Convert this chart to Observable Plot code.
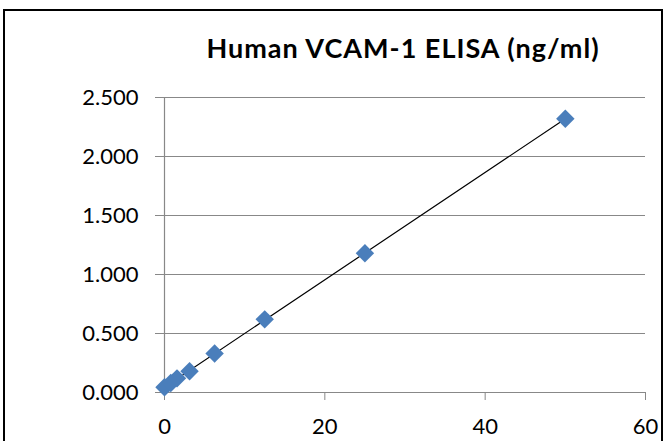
<!DOCTYPE html>
<html>
<head>
<meta charset="utf-8">
<script src="https://cdn.jsdelivr.net/npm/d3@7"></script>
<script src="https://cdn.jsdelivr.net/npm/@observablehq/plot@0.6"></script>
<style>
  html, body { margin: 0; padding: 0; background: #fff; }
  #wrap { position: relative; width: 665px; height: 441px; overflow: hidden; font-family: Lato, sans-serif; }
  #frame { position: absolute; left: 3px; top: 9px; width: 656px; height: 440px; border: 2px solid #000; box-sizing: content-box; }
  #title { position: absolute; left: 403px; top: 34px; transform: translateX(-50%); white-space: nowrap;
           font-family: Lato, sans-serif; font-weight: bold; font-size: 27px; line-height: 27px; letter-spacing: 1px; color: #000; }
  #chart { position: absolute; left: 0; top: 0; }
</style>
</head>
<body>
<div id="wrap">
  <div id="frame"></div>
  <div id="chart"></div>
  <div id="title">Human VCAM-1 ELISA (ng/ml)</div>
</div>
<script>
const concentration = [0, 0.78, 1.56, 3.125, 6.25, 12.5, 25, 50];
const absorbance = [0.045, 0.08, 0.12, 0.18, 0.33, 0.62, 1.18, 2.32];
const xTicks = [0, 20, 40, 60];
const yTicks = [0, 0.5, 1, 1.5, 2, 2.5];

const data = concentration.map((c, i) => ({x: c, y: absorbance[i]}));

const chart = Plot.plot({
  width: 665,
  height: 441,
  marginLeft: 164,
  marginRight: 20,
  marginTop: 97,
  marginBottom: 49,
  style: {fontFamily: "Lato, sans-serif", fontSize: "22px", color: "#000", background: "transparent", overflow: "visible"},
  x: {domain: [0, 60]},
  y: {domain: [0, 2.5]},
  marks: [
    Plot.gridY(yTicks, {stroke: "#888", strokeOpacity: 1, strokeWidth: 1.2}),
    Plot.ruleY([0], {stroke: "#888", strokeWidth: 1.2}),
    Plot.ruleX([0], {stroke: "#888", strokeWidth: 1.2}),
    Plot.axisY({ticks: yTicks, tickFormat: d3.format(".3f"), tickSize: 9, tickPadding: 17, stroke: "#888", label: null}),
    Plot.axisX({ticks: xTicks, tickFormat: d => String(d), tickSize: 8, tickPadding: 18, stroke: "#888", label: null}),
    Plot.linearRegressionY(data, {x: "x", y: "y", stroke: "#000", strokeWidth: 1.2, ci: 0}),
    Plot.dot(data, {x: "x", y: "y", symbol: "diamond2", r: 8.3, fill: "#4a7ebb", stroke: "none"})
  ]
});
document.getElementById("chart").appendChild(chart);
</script>
</body>
</html>
